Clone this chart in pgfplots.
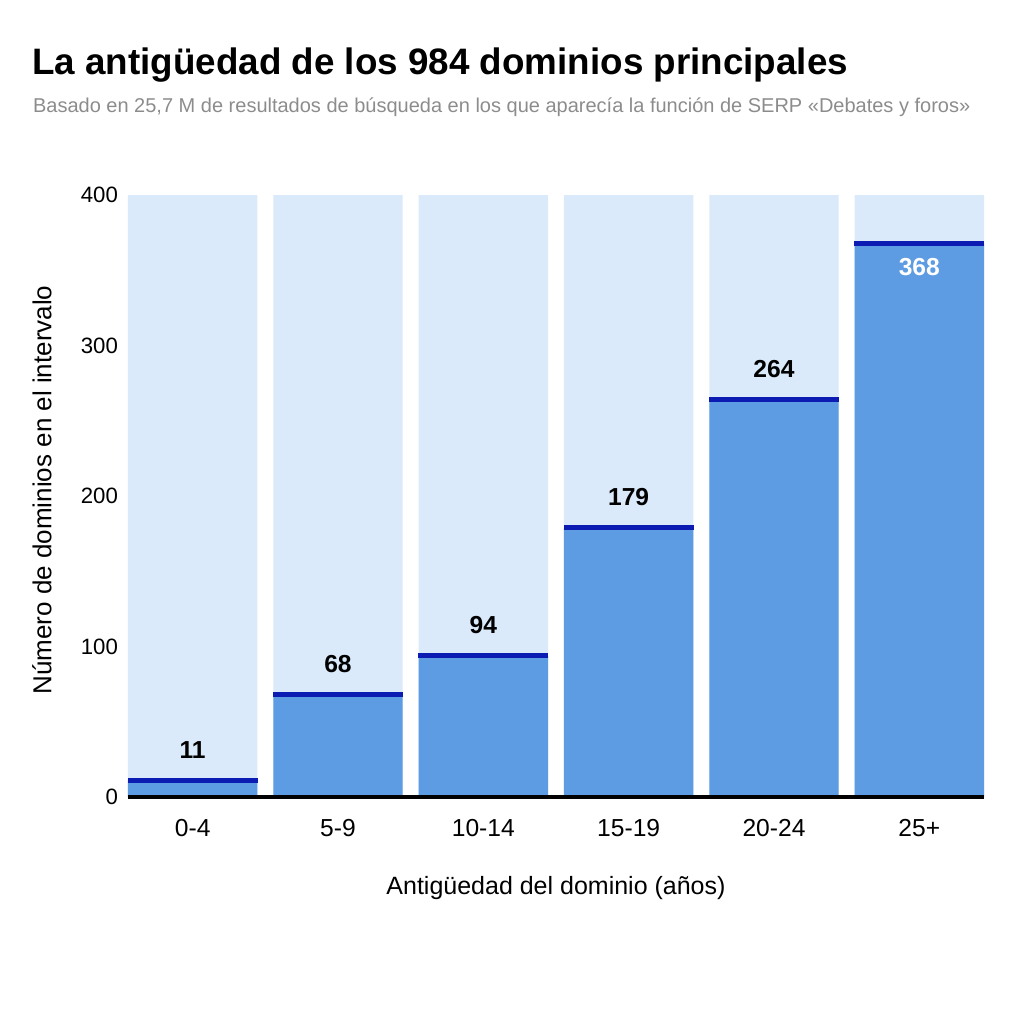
\documentclass[border=0pt]{standalone}
\usepackage{fontspec}
\setmainfont{Liberation Sans}
\usepackage{pgfplots}
\pgfplotsset{compat=1.18}
\definecolor{bglight}{RGB}{218,234,250}
\definecolor{barblue}{RGB}{93,155,227}
\definecolor{topblue}{RGB}{12,28,178}
\definecolor{subgray}{RGB}{140,140,140}
\begin{document}
\begin{tikzpicture}
% 1px of the reference = 0.5pt
\node[anchor=base west, font=\bfseries\fontsize{18.4}{22}\selectfont] at (12.5pt,474.5pt)
  {La antigüedad de los 984 dominios principales};
\node[anchor=base west, text=subgray, font=\fontsize{10}{12}\selectfont] at (13pt,455.5pt)
  {Basado en 25,7 M de resultados de búsqueda en los que aparecía la función de SERP «Debates y foros»};
\begin{axis}[
    at={(64pt,113.5pt)}, anchor=south west,
    scale only axis, width=428pt, height=301pt,
    xmin=-0.445, xmax=5.445, ymin=0, ymax=400,
    axis lines*=left,
    y axis line style={draw=none},
    x axis line style={black, line width=2pt},
    major tick length=0pt,
    xtick={0,1,2,3,4,5},
    xticklabels={0-4,5-9,10-14,15-19,20-24,25+},
    ytick={0,100,200,300,400},
    /pgf/number format/assume math mode=true,
    yticklabel style={font=\fontsize{11.1}{13}\selectfont, xshift=-1.5pt},
    xticklabel style={font=\fontsize{12.3}{14}\selectfont, anchor=center, yshift=-15.5pt},
    xlabel={Antigüedad del dominio (años)},
    ylabel={Número de dominios en el intervalo},
    xlabel style={font=\fontsize{12.5}{14}\selectfont, at={(axis description cs:0.5,0)}, anchor=center, yshift=-45.5pt},
    ylabel style={font=\fontsize{13}{15}\selectfont, at={(axis description cs:0,0.51)}, anchor=center, yshift=43pt},
    clip=false,
    axis on top,
]
% full-height backgrounds
\addplot[ybar, bar width=0.89, bar shift=0pt, fill=bglight, draw=none]
  coordinates {(0,400) (1,400) (2,400) (3,400) (4,400) (5,400)};
% values
\addplot[ybar, bar width=0.89, bar shift=0pt, fill=barblue, draw=none]
  coordinates {(0,11) (1,68) (2,94) (3,179) (4,264) (5,368)};
% top lines
\addplot[only marks, mark=-, mark size=32.5pt,
  mark options={line width=2.5pt, draw=topblue}]
  coordinates {(0,11) (1,68) (2,94) (3,179) (4,264) (5,368)};
% labels above bars
\addplot[draw=none, mark=none, nodes near coords,
  nodes near coords style={font=\bfseries\fontsize{12.3}{14}\selectfont, text=black, anchor=south, yshift=7.5pt}]
  coordinates {(0,11) (1,68) (2,94) (3,179) (4,264)};
% label inside last bar
\addplot[draw=none, mark=none, nodes near coords,
  nodes near coords style={font=\bfseries\fontsize{12.3}{14}\selectfont, text=white, anchor=north, yshift=-4pt}]
  coordinates {(5,368)};
\end{axis}
\pgfresetboundingbox
\path[use as bounding box] (0,0) rectangle (512pt,512pt);
\end{tikzpicture}
\end{document}
